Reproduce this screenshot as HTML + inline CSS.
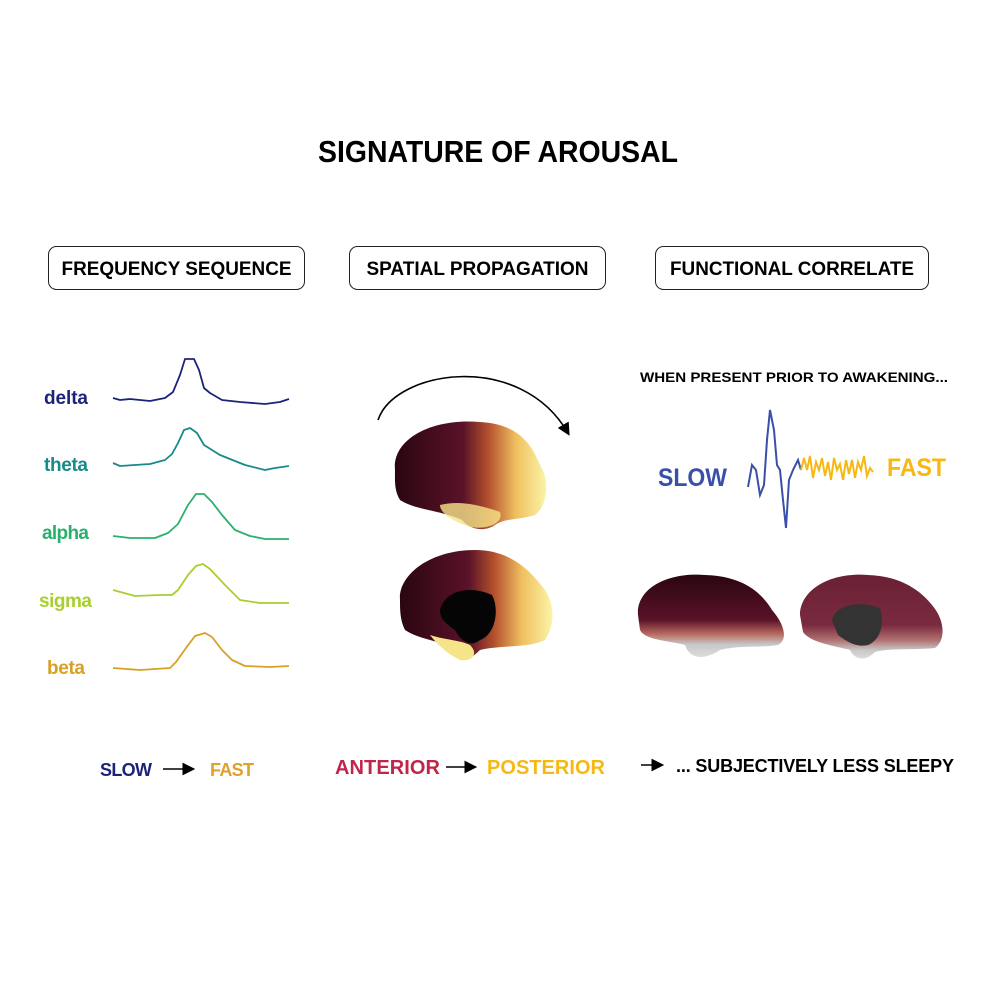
<!DOCTYPE html>
<html><head><meta charset="utf-8"><style>
html,body{margin:0;padding:0;background:#fff;}
svg{display:block;font-family:"Liberation Sans",Arial,sans-serif;font-weight:bold;}
</style></head><body>
<svg width="996" height="996" viewBox="0 0 996 996" xmlns="http://www.w3.org/2000/svg">
<defs>
<linearGradient id="g1" x1="0" y1="0" x2="1" y2="0">
<stop offset="0" stop-color="#2a0610"/><stop offset="0.45" stop-color="#5a1228"/><stop offset="0.62" stop-color="#b5522e"/><stop offset="0.8" stop-color="#f0c060"/><stop offset="1" stop-color="#fbf4a8"/></linearGradient>
<linearGradient id="g2" x1="0" y1="0" x2="0" y2="1">
<stop offset="0" stop-color="#2a0610"/><stop offset="0.55" stop-color="#5a1228"/><stop offset="0.72" stop-color="#b86a60"/><stop offset="0.85" stop-color="#c8c8c8"/><stop offset="1" stop-color="#dcdcdc"/></linearGradient>
<linearGradient id="g3" x1="0" y1="0" x2="0" y2="1">
<stop offset="0" stop-color="#6a2034"/><stop offset="0.6" stop-color="#7a2a3e"/><stop offset="0.78" stop-color="#b07070"/><stop offset="0.9" stop-color="#c8c8c8"/><stop offset="1" stop-color="#dcdcdc"/></linearGradient>
<marker id="ah" markerWidth="8" markerHeight="8" refX="6" refY="4" orient="auto"><path d="M0,0 L8,4 L0,8 z" fill="#000"/></marker>
</defs>

<text x="498" y="162" text-anchor="middle" font-size="31" textLength="360" lengthAdjust="spacingAndGlyphs">SIGNATURE OF AROUSAL</text>

<rect x="48.5" y="246.5" width="256" height="43" rx="8" fill="none" stroke="#222" stroke-width="1"/>
<text x="176.5" y="275" text-anchor="middle" font-size="19" textLength="230" lengthAdjust="spacingAndGlyphs">FREQUENCY SEQUENCE</text>
<rect x="349.5" y="246.5" width="256" height="43" rx="8" fill="none" stroke="#222" stroke-width="1"/>
<text x="477.5" y="275" text-anchor="middle" font-size="19" textLength="222" lengthAdjust="spacingAndGlyphs">SPATIAL PROPAGATION</text>
<rect x="655.5" y="246.5" width="273" height="43" rx="8" fill="none" stroke="#222" stroke-width="1"/>
<text x="792" y="275" text-anchor="middle" font-size="19" textLength="244" lengthAdjust="spacingAndGlyphs">FUNCTIONAL CORRELATE</text>

<g font-size="19" text-anchor="start" lengthAdjust="spacingAndGlyphs">
<text x="44" y="404" fill="#1c2479" textLength="44">delta</text>
<text x="44" y="471" fill="#178a89" textLength="44">theta</text>
<text x="42" y="539" fill="#2ab06e" textLength="47">alpha</text>
<text x="39" y="607" fill="#a8cf2e" textLength="53">sigma</text>
<text x="47" y="674" fill="#d8a024" textLength="38">beta</text>
</g>
<g fill="none" stroke-width="1.8" stroke-linejoin="round">
<polyline stroke="#1c2479" points="113,398 120,400 130,399 150,401 165,398 173,392 180,375 185,359 194,359 199,370 204,388 210,393 222,400 240,402 265,404 280,402 289,399"/>
<polyline stroke="#178a89" points="113,463 120,466 150,464 165,460 172,454 178,443 184,430 190,428 197,433 204,445 220,455 245,465 265,470 275,468 289,466"/>
<polyline stroke="#2ab06e" points="113,536 130,538 155,538 168,533 178,524 188,505 196,494 204,494 212,502 222,515 235,530 250,536 265,539 289,539"/>
<polyline stroke="#a8cf2e" points="113,590 135,596 160,595 172,595 178,590 188,575 196,566 203,564 210,569 225,585 240,600 260,603 289,603"/>
<polyline stroke="#d8a024" points="113,668 140,670 170,668 176,662 186,648 195,636 205,633 212,637 222,650 232,660 245,666 270,667 289,666"/>
</g>

<path d="M378,420 C395,370 520,350 568,433" fill="none" stroke="#000" stroke-width="1.6" marker-end="url(#ah)"/>

<!-- brains left -->
<path d="M395,470 C392,440 430,418 480,422 C515,424 530,440 540,465 C550,480 548,505 535,515 C520,520 505,518 495,525 C485,532 470,530 462,520 C440,510 415,510 400,500 C394,490 395,480 395,470 z" fill="url(#g1)"/>
<path d="M440,505 C460,500 480,505 500,512 C505,525 480,532 465,525 C450,520 440,512 440,505 z" fill="#f6e48a" opacity="0.8"/>
<path d="M400,600 C398,575 430,550 475,550 C510,550 530,570 545,590 C555,605 555,625 545,640 C530,648 500,645 480,650 C470,660 460,665 455,650 C440,640 420,640 405,630 C400,620 400,610 400,600 z" fill="url(#g1)"/>
<path d="M430,635 C445,640 460,640 470,645 C480,655 470,662 460,660 C450,655 440,648 430,635 z" fill="#f6e48a"/>
<path d="M440,610 C445,590 470,585 492,595 C500,610 495,635 480,640 C470,648 460,640 455,630 C448,625 440,620 440,610 z" fill="#050505"/>

<!-- waveform -->
<polyline fill="none" stroke="#3a50a8" stroke-width="2" points="748,487 752,465 756,470 760,495 764,485 767,440 770,410 774,430 777,465 780,470 783,500 786,528 789,480 793,470 798,460 801,470"/>
<polyline fill="none" stroke="#f7b814" stroke-width="2" points="801,470 804,458 807,470 810,456 813,478 816,462 819,470 822,458 825,476 828,462 831,480 834,458 837,470 840,464 843,480 846,460 849,474 852,460 855,478 858,462 861,470 864,456 867,476 870,468 873,472"/>
<text x="658" y="486" fill="#3a50a8" font-size="25" textLength="69" lengthAdjust="spacingAndGlyphs">SLOW</text>
<text x="887" y="476" fill="#f7b814" font-size="25" textLength="59" lengthAdjust="spacingAndGlyphs">FAST</text>
<text x="640" y="382" font-size="14" textLength="308" lengthAdjust="spacingAndGlyphs">WHEN PRESENT PRIOR TO AWAKENING...</text>

<!-- brains right -->
<path d="M638,615 C636,590 665,572 705,575 C740,576 760,590 772,610 C785,625 788,640 778,645 C760,648 740,645 720,650 C705,660 690,660 685,645 C665,640 645,640 640,630 z" fill="url(#g2)"/>
<path d="M800,615 C800,590 830,572 868,575 C900,576 920,590 932,605 C945,620 946,640 935,648 C915,650 890,648 875,652 C865,662 855,660 850,650 C830,645 810,642 803,632 z" fill="url(#g3)"/>
<path d="M832,620 C835,605 860,600 880,608 C885,625 880,640 868,645 C855,648 845,640 838,635 z" fill="#333"/>

<!-- bottom row -->
<g font-size="18" lengthAdjust="spacingAndGlyphs">
<text x="100" y="776" fill="#1c2479" textLength="52">SLOW</text>
<text x="210" y="776" fill="#e0a02a" textLength="44">FAST</text>
<text x="335" y="774" fill="#c0254a" font-size="20" textLength="105">ANTERIOR</text>
<text x="487" y="774" fill="#f7b814" font-size="20" textLength="118">POSTERIOR</text>
<text x="676" y="772" fill="#000" textLength="278">... SUBJECTIVELY LESS SLEEPY</text>
</g>
<g stroke="#000" stroke-width="1.6" fill="none">
<line x1="163" y1="769" x2="192" y2="769" marker-end="url(#ah)"/>
<line x1="446" y1="767" x2="474" y2="767" marker-end="url(#ah)"/>
<line x1="641" y1="765" x2="661" y2="765" marker-end="url(#ah)"/>
</g>
</svg>
</body></html>
